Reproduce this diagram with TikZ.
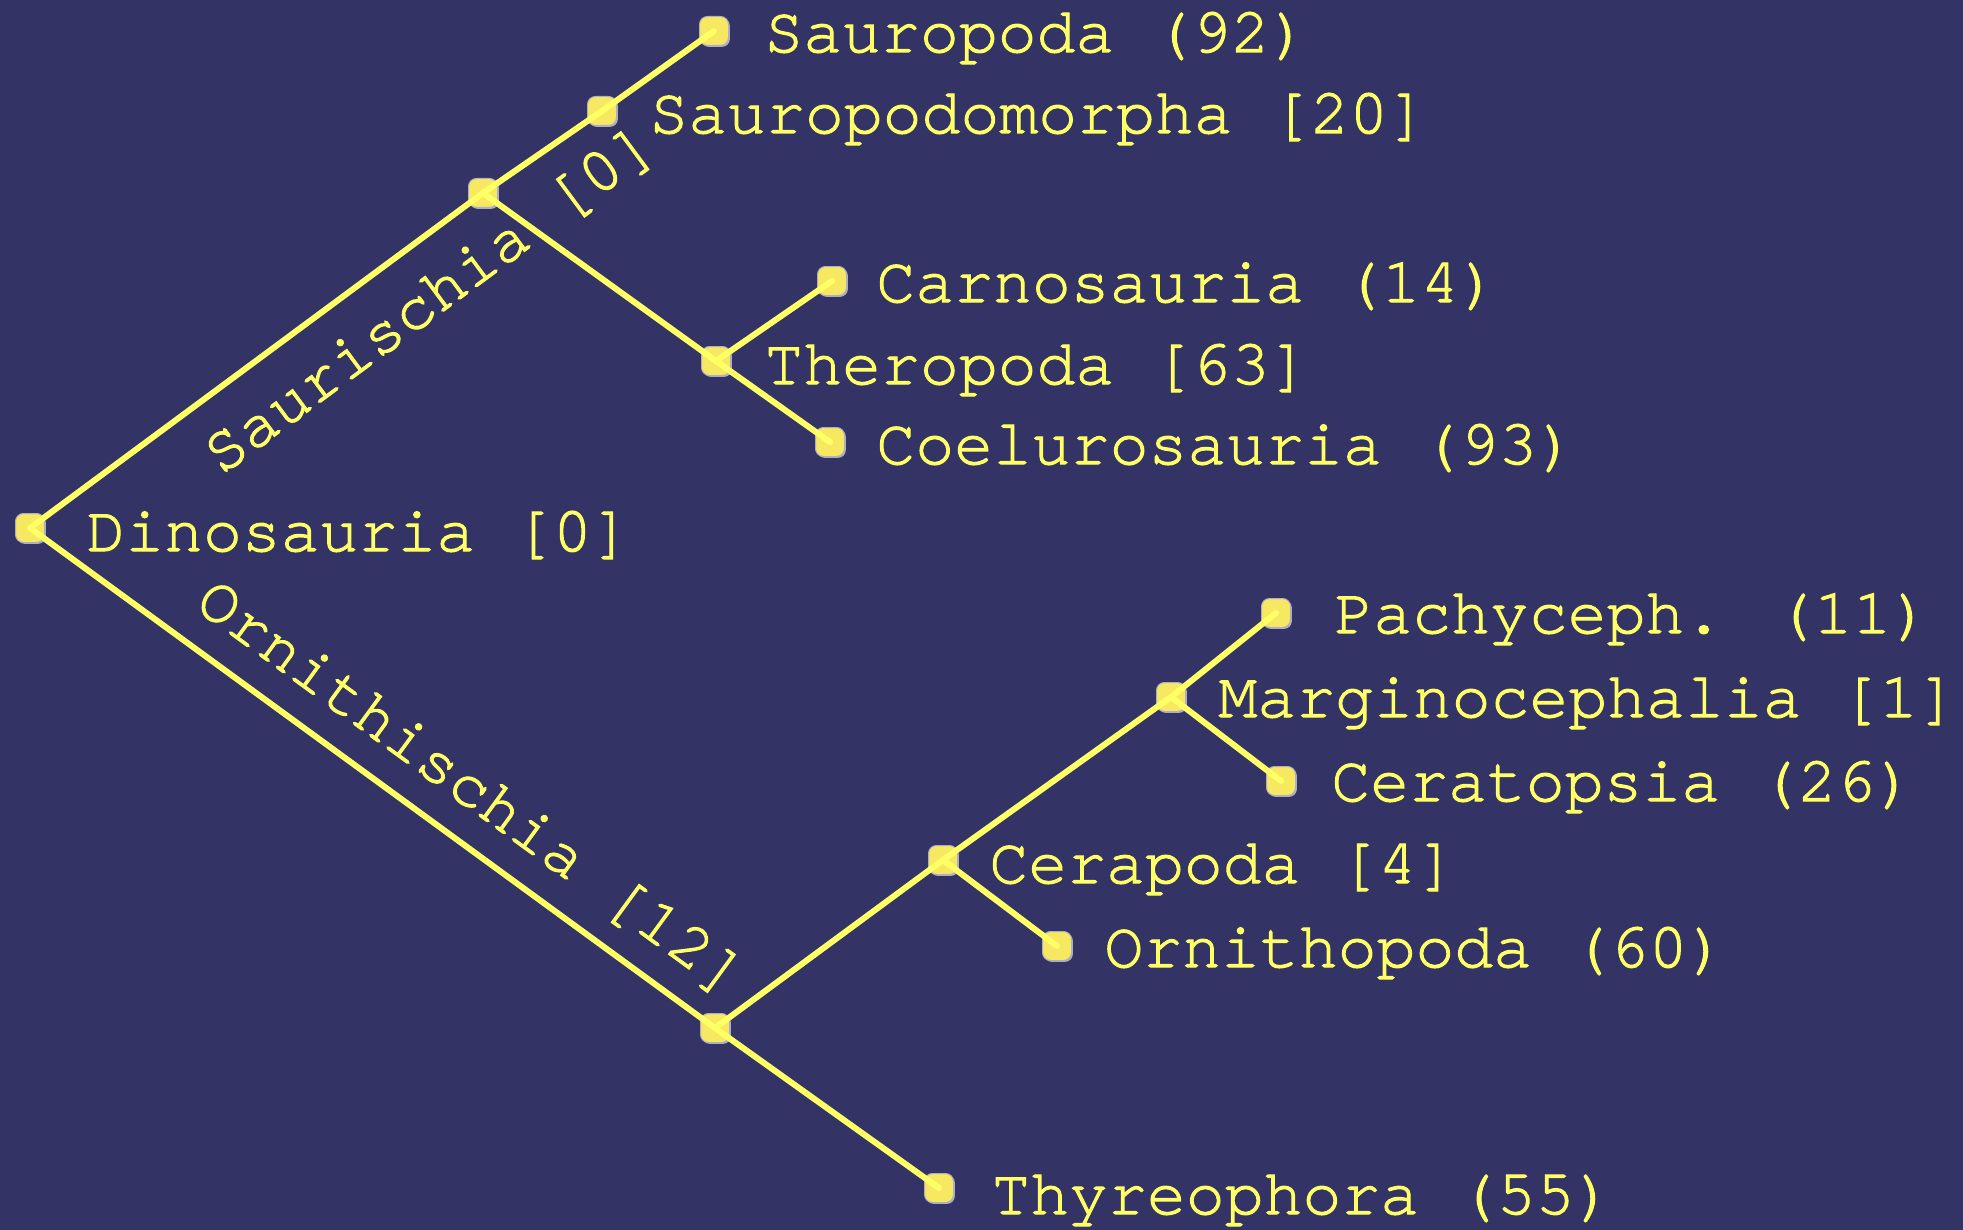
\documentclass[tikz,border=0pt]{standalone}
\usepackage{fontspec}
\setmainfont[FakeBold=1.6]{TeX Gyre Cursor}
\usetikzlibrary{shadows}
\definecolor{bgc}{RGB}{51,51,102}
\definecolor{linec}{RGB}{255,255,102}
\definecolor{dotc}{RGB}{246,232,96}
\definecolor{dotedge}{RGB}{175,175,195}
\begin{document}
\begin{tikzpicture}[x=0.5pt,y=-0.5pt,
  dotn/.style={rectangle, rounded corners=4pt, minimum size=14.5pt, inner sep=0pt,
    fill=dotc, draw=dotedge, line width=0.5pt,
    drop shadow={shadow xshift=0.7pt, shadow yshift=-0.7pt, fill=dotedge, opacity=1}},
  branch/.style={draw=linec, line width=3pt, line cap=round, line join=round},
  lbl/.style={text=linec, font=\fontsize{32.4}{38}\selectfont, inner sep=0pt, anchor=base west},
  rlbl/.style={text=linec, font=\fontsize{32.4}{38}\selectfont, inner sep=0pt, anchor=base}]
\fill[bgc] (0,0) rectangle (1963,1230);
\useasboundingbox (0,0) rectangle (1963,1230);

% dots
\node[dotn] (root)   at (30,528)   {};
\node[dotn] (saur)   at (483,193)  {};
\node[dotn] (spm)    at (602,111)  {};
\node[dotn] (spd)    at (714,31)   {};
\node[dotn] (ther)   at (716,361)  {};
\node[dotn] (carn)   at (832,281)  {};
\node[dotn] (coel)   at (830,442)  {};
\node[dotn] (orni)   at (715,1028) {};
\node[dotn] (cerp)   at (943,860)  {};
\node[dotn] (marg)   at (1171,697) {};
\node[dotn] (pach)   at (1276,613) {};
\node[dotn] (cert)   at (1281,781) {};
\node[dotn] (ornp)   at (1057,946) {};
\node[dotn] (thyr)   at (939,1188) {};

% branches
\draw[branch] (root.center) -- (saur.center);
\draw[branch] (saur.center) -- (spm.center);
\draw[branch] (spm.center) -- (spd.center);
\draw[branch] (saur.center) -- (ther.center);
\draw[branch] (ther.center) -- (carn.center);
\draw[branch] (ther.center) -- (coel.center);
\draw[branch] (root.center) -- (orni.center);
\draw[branch] (orni.center) -- (cerp.center);
\draw[branch] (cerp.center) -- (marg.center);
\draw[branch] (marg.center) -- (pach.center);
\draw[branch] (marg.center) -- (cert.center);
\draw[branch] (cerp.center) -- (ornp.center);
\draw[branch] (orni.center) -- (thyr.center);

% labels
\node[lbl] (tspd)  at (764,52)    {Sauropoda (92)};
\node[lbl] (tspm)  at (649,133)   {Sauropodomorpha [20]};
\node[lbl] (tcarn) at (876,302)   {Carnosauria (14)};
\node[lbl] (tther) at (764,384)   {Theropoda [63]};
\node[lbl] (tcoel) at (876,464)   {Coelurosauria (93)};
\node[lbl] (troot) at (86,551)    {Dinosauria [0]};
\node[lbl] (tpach) at (1334,633)  {Pachyceph. (11)};
\node[lbl] (tmarg) at (1218,717)  {Marginocephalia [1]};
\node[lbl] (tcert) at (1331,801)  {Ceratopsia (26)};
\node[lbl] (tcerp) at (989,883)   {Cerapoda [4]};
\node[lbl] (tornp) at (1104,967)  {Ornithopoda (60)};
\node[lbl] (tthyr) at (991,1214)  {Thyreophora (55)};

\node[rlbl, rotate=36.48]  (tsaur) at (440,314) {Saurischia [0]};
\node[rlbl, rotate=-36.13] (torni) at (460,802) {Ornithischia [12]};
\end{tikzpicture}
\end{document}
